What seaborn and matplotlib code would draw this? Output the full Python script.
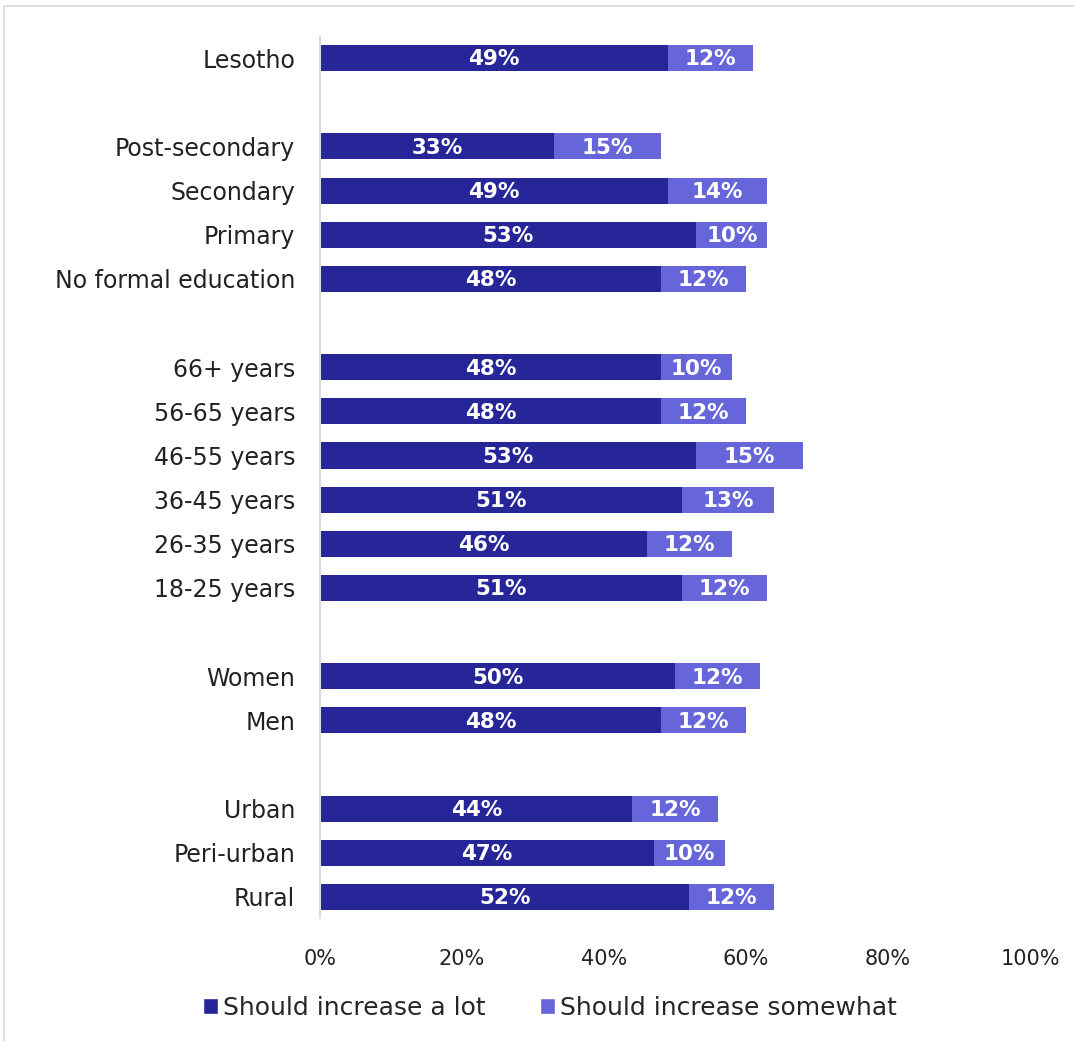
import matplotlib
matplotlib.use("Agg")
import matplotlib.pyplot as plt
from matplotlib.patches import Patch, Rectangle
import seaborn as sns
import pandas as pd

sns.set_theme(style="white")
plt.rcParams["font.family"] = ["DejaVu Sans"]

# Survey groups (top to bottom); blank strings act as spacer rows between groups
row_order = ["Lesotho", " ",
             "Post-secondary", "Secondary", "Primary", "No formal education", "  ",
             "66+ years", "56-65 years", "46-55 years", "36-45 years", "26-35 years", "18-25 years", "   ",
             "Women", "Men", "    ",
             "Urban", "Peri-urban", "Rural"]

categories = ["Lesotho",
              "Post-secondary", "Secondary", "Primary", "No formal education",
              "66+ years", "56-65 years", "46-55 years", "36-45 years", "26-35 years", "18-25 years",
              "Women", "Men",
              "Urban", "Peri-urban", "Rural"]
increase_a_lot = [49, 33, 49, 53, 48, 48, 48, 53, 51, 46, 51, 50, 48, 44, 47, 52]
increase_somewhat = [12, 15, 14, 10, 12, 10, 12, 15, 13, 12, 12, 12, 12, 12, 10, 12]

series_names = ["Should increase a lot", "Should increase somewhat"]
dark = "#262699"
light = "#6666DA"

df = pd.DataFrame({"group": categories, "lot": increase_a_lot, "somewhat": increase_somewhat})
df["total"] = df["lot"] + df["somewhat"]

fig = plt.figure(figsize=(10.74, 10.41), dpi=100)
ax = fig.add_axes([0.298, 0.118, 0.661, 0.8465])

sns.barplot(data=df, y="group", x="total", order=row_order, orient="h",
            color=light, saturation=1, width=0.59, linewidth=0, ax=ax)
sns.barplot(data=df, y="group", x="lot", order=row_order, orient="h",
            color=dark, saturation=1, width=0.59, linewidth=0, ax=ax)

pos = {name: i for i, name in enumerate(row_order)}
for g, a, s in zip(categories, increase_a_lot, increase_somewhat):
    y = pos[g]
    ax.text(a / 2, y + 0.03, f"{a}%", ha="center", va="center", color="white",
            fontsize=15.5, fontweight="bold")
    ax.text(a + s / 2, y + 0.03, f"{s}%", ha="center", va="center", color="white",
            fontsize=15.5, fontweight="bold")

ax.set_xlim(0, 100)
ax.set_ylim(len(row_order) - 0.52, -0.48)
ax.set_xticks(range(0, 101, 20))
ax.set_xticklabels([f"{t}%" for t in range(0, 101, 20)], fontsize=15, color="#222222")
ax.tick_params(axis="y", labelsize=17, labelcolor="#222222", length=0, pad=18)
ax.tick_params(axis="x", length=0, pad=22)
for lbl in ax.get_yticklabels():
    lbl.set_va("center_baseline")
ax.set_xlabel("")
ax.set_ylabel("")

for side in ["top", "right", "bottom"]:
    ax.spines[side].set_visible(False)
ax.spines["left"].set_color("#d9d9d9")
ax.spines["left"].set_linewidth(1.5)

handles = [Patch(facecolor=dark, label=series_names[0]),
           Patch(facecolor=light, label=series_names[1])]
fig.legend(handles=handles, loc="center", bbox_to_anchor=(0.512, 0.032), ncol=2,
           frameon=False, fontsize=18, handlelength=0.6, handleheight=0.6,
           handletextpad=0.2, columnspacing=2.2)

# Light frame around the figure
fig.patches.append(Rectangle((4 / 1074, -0.1), 1.2, 1 - 6 / 1041 + 0.1,
                             transform=fig.transFigure, fill=False,
                             edgecolor="#d9d9d9", linewidth=1.2))

fig.savefig("out.png", dpi=100)
